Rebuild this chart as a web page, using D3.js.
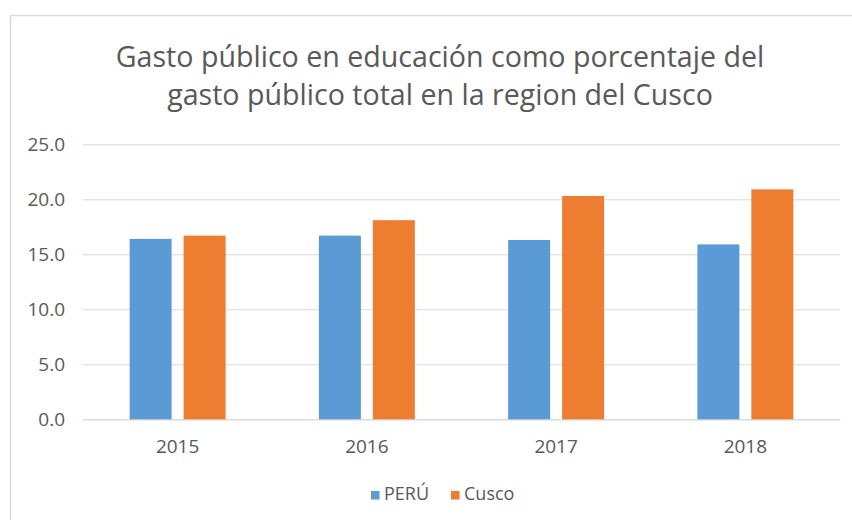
<!DOCTYPE html>
<html>
<head>
<meta charset="utf-8">
<script src="https://cdn.jsdelivr.net/npm/d3@7"></script>
<style>
	body { margin: 0; background: #fff; }
	text { font-family: "Open Sans", sans-serif; fill: #595959; }
</style>
</head>
<body>
<svg></svg>
<script>
const years = ["2015", "2016", "2017", "2018"];
const series = ["PERÚ", "Cusco"];
const peru = [16.4, 16.7, 16.3, 15.9];
const cusco = [16.7, 18.1, 20.3, 20.9];
const yTicks = [0, 5, 10, 15, 20, 25];
const titleLines = [
	"Gasto público en educación como porcentaje del",
	"gasto público total en la region del Cusco",
];

const colors = { "PERÚ": "#5B9BD5", "Cusco": "#ED7D31" };

const svg = d3.select("svg");
svg.attr("width", 852).attr("height", 520);

// chart frame, cut at the right and bottom like the reference
svg.append("rect")
	.attr("x", 10.5)
	.attr("y", 15.5)
	.attr("width", 900)
	.attr("height", 600)
	.attr("fill", "#fff")
	.attr("stroke", "#d9d9d9")
	.attr("stroke-width", 1.5);

const title = svg.append("text")
	.attr("text-anchor", "middle")
	.style("font-size", "28.6px");
title.selectAll("tspan")
	.data(titleLines)
	.join("tspan")
	.attr("x", 440)
	.attr("y", (_, i) => 67 + i * 38)
	.text((d) => d);

const xScale = d3.scaleBand()
	.domain(years)
	.range([83, 840])
	.paddingInner(0.493)
	.paddingOuter(0.2465);
const subScale = d3.scaleBand()
	.domain(series)
	.range([0, xScale.bandwidth()])
	.paddingInner(0.222);
const yScale = d3.scaleLinear().domain([0, 25]).range([419.3, 144.3]);

const yAxis = d3.axisLeft(yScale)
	.tickValues(yTicks)
	.tickFormat(d3.format(".1f"))
	.tickSize(-(840 - 83))
	.tickPadding(18);
const yG = svg.append("g").attr("transform", "translate(83, 0)").call(yAxis);
yG.select(".domain").remove();
yG.selectAll(".tick line").attr("stroke", "#d9d9d9").attr("stroke-width", 1);
yG.selectAll(".tick text").style("font-size", "19px").attr("fill", "#595959");

const xAxis = d3.axisBottom(xScale).tickSize(0).tickPadding(20);
const xG = svg.append("g").attr("transform", "translate(0, 419.3)").call(xAxis);
xG.select(".domain").attr("stroke", "#d9d9d9");
xG.selectAll(".tick text").style("font-size", "19px").attr("fill", "#595959");

const rows = years.map((y, i) => ({ year: y, "PERÚ": peru[i], "Cusco": cusco[i] }));

svg.append("g")
	.selectAll("g")
	.data(rows)
	.join("g")
	.attr("transform", (d) => `translate(${xScale(d.year)}, 0)`)
	.selectAll("rect")
	.data((d) => series.map((s) => ({ key: s, value: d[s] })))
	.join("rect")
	.attr("x", (d) => subScale(d.key))
	.attr("width", subScale.bandwidth())
	.attr("y", (d) => yScale(d.value))
	.attr("height", (d) => yScale(0) - yScale(d.value))
	.attr("fill", (d) => colors[d.key]);

// legend
const legend = svg.append("g").attr("transform", "translate(0, 500)");
const legendX = [371, 451];
const items = legend.selectAll("g")
	.data(series)
	.join("g")
	.attr("transform", (_, i) => `translate(${legendX[i]}, 0)`);
items.append("rect")
	.attr("y", -9)
	.attr("width", 8.5)
	.attr("height", 8.5)
	.attr("fill", (d) => colors[d]);
items.append("text")
	.attr("x", 13)
	.style("font-size", "18px")
	.text((d) => d);
</script>
</body>
</html>
